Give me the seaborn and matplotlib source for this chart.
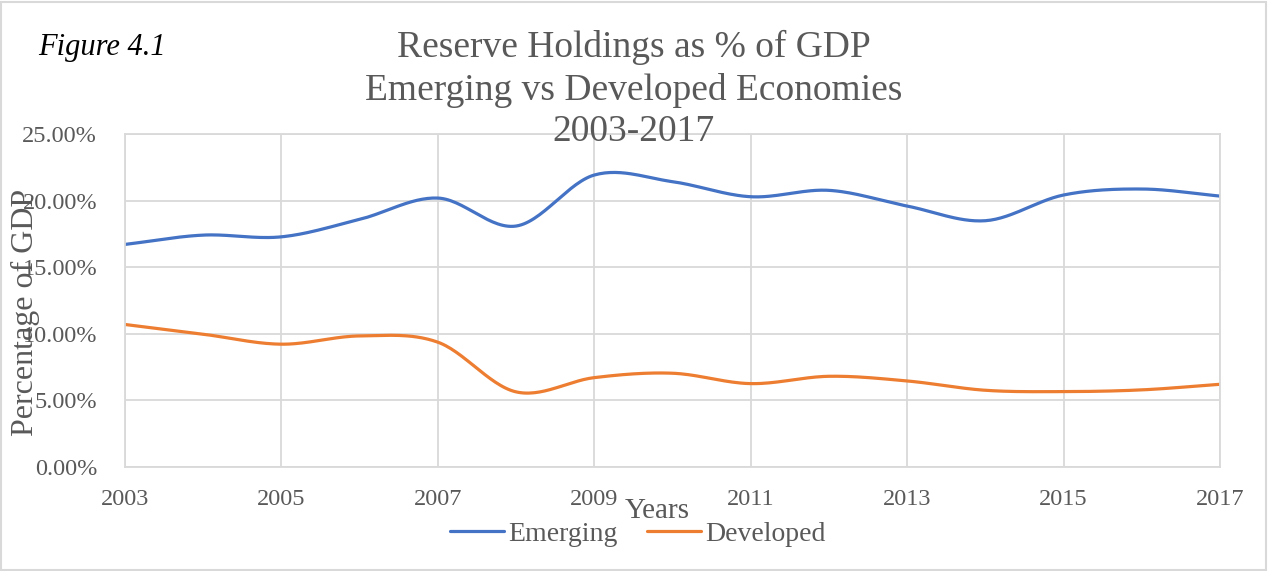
import numpy as np
import pandas as pd
import matplotlib
matplotlib.use("Agg")
import matplotlib.pyplot as plt
from matplotlib.ticker import FuncFormatter
from matplotlib.patches import Rectangle
import seaborn as sns

years = [2003, 2004, 2005, 2006, 2007, 2008, 2009, 2010,
         2011, 2012, 2013, 2014, 2015, 2016, 2017]
emerging = [16.71, 17.41, 17.28, 18.59, 20.19, 18.09, 21.92, 21.42,
            20.29, 20.77, 19.59, 18.49, 20.42, 20.87, 20.34]
developed = [10.70, 9.97, 9.22, 9.84, 9.37, 5.64, 6.71, 7.04,
             6.26, 6.81, 6.46, 5.76, 5.66, 5.79, 6.21]
series_names = ["Emerging", "Developed"]
xticks = [2003, 2005, 2007, 2009, 2011, 2013, 2015, 2017]
yticks = [0, 5, 10, 15, 20, 25]

sns.set_theme(style="white")
plt.rcParams["font.family"] = ["Liberation Serif", "DejaVu Serif"]

GRAY = "#595959"
GRID = "#D9D9D9"
colors = {"Emerging": "#4472C4", "Developed": "#ED7D31"}


def smooth(xs, ys, n=30):
    # Catmull-Rom spline through the data points (Excel-like smoothed line)
    xs = np.asarray(xs, float)
    ys = np.asarray(ys, float)
    px = np.concatenate([[2 * xs[0] - xs[1]], xs, [2 * xs[-1] - xs[-2]]])
    py = np.concatenate([[2 * ys[0] - ys[1]], ys, [2 * ys[-1] - ys[-2]]])
    outx, outy = [], []
    for i in range(1, len(px) - 2):
        t = np.linspace(0, 1, n, endpoint=False)
        for arr, out in ((px, outx), (py, outy)):
            p0, p1, p2, p3 = arr[i - 1], arr[i], arr[i + 1], arr[i + 2]
            out.extend(0.5 * ((2 * p1) + (-p0 + p2) * t
                              + (2 * p0 - 5 * p1 + 4 * p2 - p3) * t ** 2
                              + (-p0 + 3 * p1 - 3 * p2 + p3) * t ** 3))
    outx.append(xs[-1])
    outy.append(ys[-1])
    return np.array(outx), np.array(outy)


frames = []
for name, vals in zip(series_names, [emerging, developed]):
    sx, sy = smooth(years, vals)
    frames.append(pd.DataFrame({"Year": sx, "Value": sy, "Series": name}))
df = pd.concat(frames, ignore_index=True)

fig = plt.figure(figsize=(12.68, 5.71), dpi=100)
ax = fig.add_axes([125 / 1268, 1 - 467 / 571, (1220 - 125) / 1268, (467 - 134) / 571])

sns.lineplot(data=df, x="Year", y="Value", hue="Series", palette=colors,
             linewidth=2.3, ax=ax, sort=False, estimator=None)

ax.set_xlim(2003, 2017)
ax.set_ylim(0, 25)
ax.set_xticks(xticks)
ax.set_yticks(yticks)
ax.yaxis.set_major_formatter(FuncFormatter(lambda v, p: f"{v:.2f}%"))
ax.grid(True, color=GRID, linewidth=1.3)
ax.set_axisbelow(True)
for s in ax.spines.values():
    s.set_color(GRID)
    s.set_linewidth(1.3)
ax.tick_params(axis="both", length=0, labelsize=17.5, labelcolor=GRAY)
ax.tick_params(axis="y", pad=20)
ax.tick_params(axis="x", pad=16)
ax.set_xlabel("")
ax.set_ylabel("")

fig.text(25 / 1268, 1 - 312 / 571, "Percentage of GDP", rotation=90,
         ha="center", va="center", fontsize=23, color=GRAY)
fig.text(657 / 1268, 1 - 511 / 571, "Years", ha="center", va="center",
         fontsize=21, color=GRAY)

fig.text(38 / 1268, 1 - 47 / 571, "Figure 4.1", ha="left", va="center",
         fontsize=22, style="italic", color="black")
for txt, yc in [("Reserve Holdings as % of GDP", 47),
                ("Emerging vs Developed Economies", 91),
                ("2003-2017", 132)]:
    fig.text(634 / 1268, 1 - yc / 571, txt, ha="center", va="center",
             fontsize=27, color=GRAY)

handles, labels = ax.get_legend_handles_labels()
ax.legend(handles, labels, loc="center", bbox_to_anchor=(638 / 1268, 1 - 534 / 571),
          bbox_transform=fig.transFigure, ncol=2, frameon=False, fontsize=20,
          handlelength=1.95, handletextpad=0.15, columnspacing=1.05,
          labelcolor=GRAY)

fig.patches.append(Rectangle((1 / 1268, 1 / 571), 1 - 3 / 1268, 1 - 3 / 571,
                             transform=fig.transFigure, fill=False,
                             edgecolor=GRID, linewidth=1.5))

fig.savefig("out.png", dpi=100, facecolor="white")
